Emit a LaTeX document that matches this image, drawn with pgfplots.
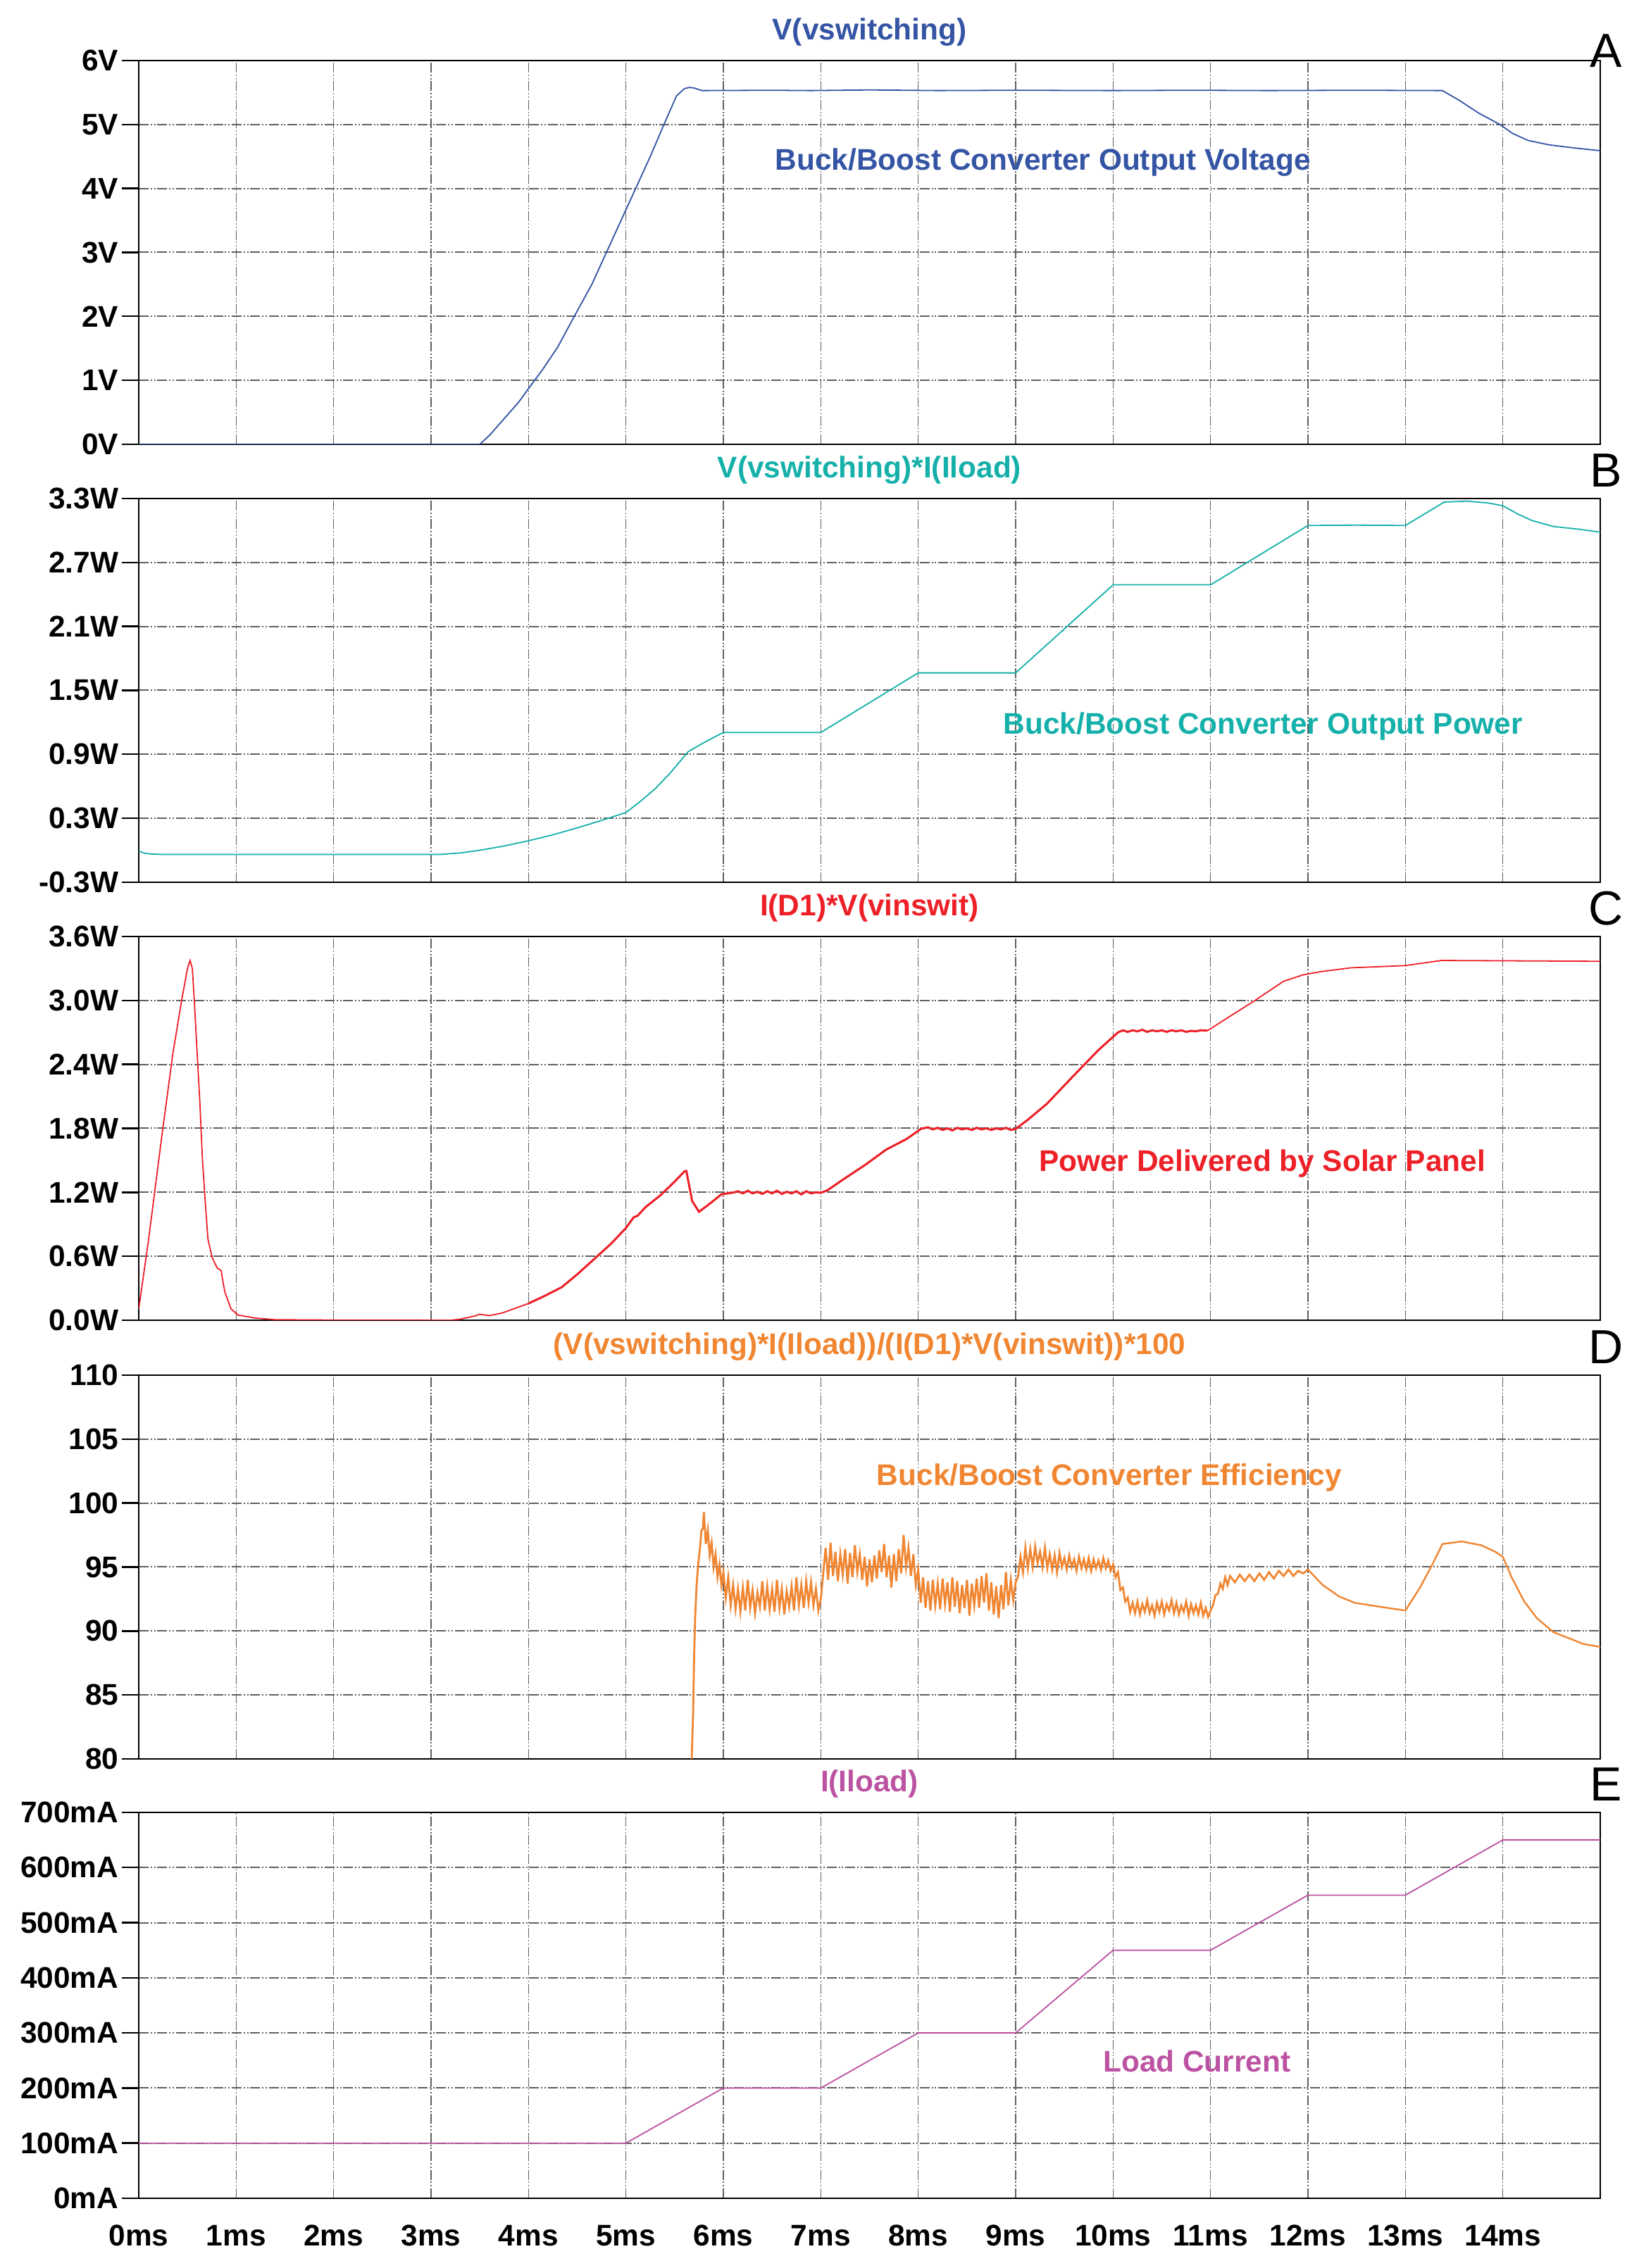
\documentclass[border=0pt]{standalone}
\usepackage{fontspec}
\setmainfont{Liberation Sans}
\usepackage{pgfplots}
\pgfplotsset{compat=1.18}
\definecolor{cA}{RGB}{52,84,164}
\definecolor{cB}{RGB}{22,176,170}
\definecolor{cC}{RGB}{237,32,40}
\definecolor{cD}{RGB}{240,134,50}
\definecolor{cE}{RGB}{188,82,162}
\definecolor{gridc}{RGB}{96,96,96}
\newcommand{\tf}{\fontsize{10.6}{12.5}\selectfont\bfseries}
\newcommand{\lf}{\fontsize{17}{20}\selectfont}
\pgfplotsset{panel/.style={
  scale only axis, width=518.75pt, height=136.25pt, anchor=north west,
  xmin=0, xmax=15, xtick={0,...,14}, xticklabels={},
  ytick pos=left, xtick pos=bottom, tick align=outside, major tick length=6pt,
  grid=major,
  x grid style={gridc, line width=0.35pt, dash pattern=on 3.5pt off 0.7pt on 0.5pt off 0.7pt on 0.5pt off 0.7pt},
  y grid style={gridc, line width=0.5pt, dash pattern=on 3.5pt off 0.7pt on 0.5pt off 0.7pt on 0.5pt off 0.7pt},
  axis line style={black, line width=0.6pt},
  ytick style={black, line width=0.6pt},
  xtick style={draw=none},
  ticklabel style={font=\tf},
  yticklabel style={inner xsep=1pt},
  clip mode=individual,
  every axis plot/.append style={line width=0.45pt},
}}
\newcommand{\ptitle}[2]{\node[font=\tf, text=#1, anchor=base, yshift=7.3pt] at (rel axis cs:0.5,1) {#2};}
\newcommand{\pletter}[2]{\node[font=\lf, anchor=base, xshift=2pt, yshift=#1] at (rel axis cs:1,1) {#2};}
\begin{document}
\begin{tikzpicture}
\path[use as bounding box] (0,0) rectangle (581.5pt,805.25pt);
% ---------------- A ----------------
\begin{axis}[panel, at={(49.25pt,783.75pt)}, ymin=0, ymax=6, ytick={0,1,2,3,4,5,6},
  yticklabels={0V,1V,2V,3V,4V,5V,6V}]
\addplot[cA] coordinates {(0,0) (3.5,0) (3.6,0.14) (3.75,0.40) (3.9,0.66) (4.0,0.87) (4.15,1.18) (4.3,1.52) (4.47,2.0) (4.65,2.5) (4.80,3.0) (4.95,3.5) (5.10,4.0) (5.25,4.5) (5.39,5.0) (5.52,5.45) (5.60,5.56) (5.65,5.58) (5.70,5.57) (5.78,5.53) (6.5,5.535) (6.9,5.53) (7.5,5.54) (8.2,5.53) (9.0,5.535) (10.0,5.53) (10.8,5.535) (11.6,5.53) (12.5,5.535) (13.38,5.53) (13.55,5.38) (13.75,5.18) (13.97,5.0) (14.1,4.86) (14.26,4.75) (14.48,4.68) (14.75,4.63) (15,4.59)};
\node[font=\tf, text=cA, anchor=base] at (axis cs:9.28,4.29) {Buck/Boost Converter Output Voltage};
\ptitle{cA}{V(vswitching)}
\pletter{-2.5pt}{A}
\end{axis}
% ---------------- B ----------------
\begin{axis}[panel, at={(49.25pt,628.25pt)}, ymin=-0.3, ymax=3.3, ytick={-0.3,0.3,0.9,1.5,2.1,2.7,3.3},
  yticklabels={-0.3W,0.3W,0.9W,1.5W,2.1W,2.7W,3.3W}]
\addplot[cB] coordinates {(0,-0.007) (0.05,-0.025) (0.12,-0.035) (0.26,-0.04) (3.08,-0.04) (3.3,-0.025) (3.5,0.0) (3.75,0.04) (4.0,0.089) (4.25,0.145) (4.5,0.21) (4.75,0.28) (5.0,0.354) (5.15,0.46) (5.3,0.577) (5.45,0.72) (5.64,0.926) (5.8,1.01) (6.0,1.105) (7.0,1.105) (8.0,1.664) (9.0,1.664) (10.0,2.49) (11.0,2.49) (12.0,3.047) (12.5,3.05) (13.0,3.047) (13.4,3.267) (13.63,3.275) (13.85,3.258) (14.0,3.232) (14.15,3.156) (14.3,3.093) (14.52,3.037) (14.78,3.012) (15,2.984)};
\node[font=\tf, text=cB, anchor=base] at (axis cs:11.54,1.09) {Buck/Boost Converter Output Power};
\ptitle{cB}{V(vswitching)*I(Iload)}
\pletter{4pt}{B}
\end{axis}
% ---------------- C ----------------
\begin{axis}[panel, at={(49.25pt,472.75pt)}, ymin=0, ymax=3.6, ytick={0,0.6,1.2,1.8,2.4,3.0,3.6},
  yticklabels={0.0W,0.6W,1.2W,1.8W,2.4W,3.0W,3.6W}]
\addplot[cC] coordinates {(0,0.106) (0.1,0.75) (0.24,1.75) (0.35,2.5) (0.44,3.0) (0.5,3.3) (0.527,3.375) (0.55,3.3) (0.57,3.0) (0.59,2.66) (0.628,2.03) (0.653,1.52) (0.68,1.14) (0.71,0.76) (0.754,0.587) (0.805,0.49) (0.846,0.465) (0.866,0.35) (0.886,0.258) (0.947,0.106) (1.02,0.048) (1.2,0.02) (1.4,0.005) (1.9,0.002) (3.2,0.0) (3.3,0.01) (3.45,0.04) (3.5,0.056) (3.6,0.043) (3.73,0.068) (4.0,0.157)};
\addplot[cC, line width=0.75pt] coordinates {(4.0,0.157) (4.17,0.23) (4.34,0.309) (4.5,0.43) (4.69,0.587) (4.85,0.72) (5.0,0.865) (5.08,0.966) (5.12,0.98) (5.2,1.06) (5.35,1.169) (5.5,1.30) (5.6,1.396) (5.62,1.40) (5.68,1.118) (5.75,1.017) (5.86,1.093) (5.98,1.181) (6.11,1.199)
 (6.15,1.21) (6.2,1.19) (6.25,1.215) (6.3,1.19) (6.35,1.205) (6.4,1.185) (6.45,1.21) (6.5,1.19) (6.55,1.215) (6.6,1.185) (6.65,1.205) (6.7,1.19) (6.75,1.21) (6.8,1.18) (6.85,1.21) (6.9,1.19) (6.95,1.2) (7.0,1.195)
 (7.07,1.22) (7.25,1.333) (7.46,1.46) (7.67,1.60) (7.88,1.70) (8.03,1.796)
 (8.1,1.81) (8.15,1.79) (8.2,1.805) (8.25,1.785) (8.3,1.8) (8.35,1.78) (8.4,1.805) (8.45,1.79) (8.5,1.8) (8.55,1.785) (8.6,1.805) (8.65,1.79) (8.7,1.8) (8.75,1.785) (8.8,1.8) (8.85,1.79) (8.9,1.805) (8.95,1.785) (9.0,1.795)
 (9.12,1.877) (9.32,2.03) (9.58,2.28) (9.85,2.535) (10.05,2.70)
 (10.1,2.72) (10.15,2.705) (10.2,2.72) (10.25,2.71) (10.3,2.725) (10.35,2.705) (10.4,2.72) (10.45,2.71) (10.5,2.72) (10.55,2.705) (10.6,2.72) (10.65,2.71) (10.7,2.72) (10.75,2.705) (10.8,2.715) (10.85,2.71) (10.9,2.72) (10.97,2.717)};
\addplot[cC] coordinates {(10.97,2.717) (11.18,2.84) (11.44,2.99) (11.75,3.18) (11.95,3.24) (12.13,3.27) (12.44,3.306) (13.0,3.327) (13.37,3.375) (15,3.367)};
\node[font=\tf, text=cC, anchor=base] at (axis cs:11.53,1.40) {Power Delivered by Solar Panel};
\ptitle{cC}{I(D1)*V(vinswit)}
\pletter{4pt}{C}
\end{axis}
% ---------------- D ----------------
\begin{axis}[panel, at={(49.25pt,317pt)}, ymin=80, ymax=110, ytick={80,85,90,95,100,105,110},
  yticklabels={80,85,90,95,100,105,110}]
\addplot[cD, line width=0.7pt] coordinates {(5.665,75) (5.675,80) (5.69,83.7) (5.70,88) (5.71,91) (5.725,93.5) (5.74,95.1) (5.76,96.5) (5.775,97.85) (5.79,98.0) (5.80,99.3)
 (5.82,96.8) (5.84,97.9) (5.86,95.9) (5.88,96.9) (5.90,95.0) (5.92,96.0) (5.94,94.2) (5.96,95.2) (5.98,93.6) (6.00,94.6)
 (6.025,92.6) (6.05,94.2) (6.075,92.0) (6.10,93.6) (6.125,91.7) (6.15,93.3) (6.175,91.5) (6.20,93.4) (6.225,91.6) (6.25,94.0) (6.275,91.8) (6.30,93.2) (6.325,91.4) (6.35,93.0) (6.375,91.9) (6.40,93.9) (6.425,91.6) (6.45,93.5) (6.475,91.7) (6.50,93.3) (6.525,91.5) (6.55,94.0) (6.575,91.8) (6.60,93.3) (6.625,91.3) (6.65,93.1) (6.675,91.9) (6.70,93.5) (6.725,91.6) (6.75,94.2) (6.775,92.0) (6.80,93.6) (6.825,91.8) (6.85,93.9) (6.875,92.2) (6.90,93.8) (6.925,92.0) (6.95,93.3) (6.975,91.6) (7.00,92.5)
 (7.025,94.5) (7.05,96.5) (7.075,94.0) (7.10,96.9) (7.125,94.3) (7.15,96.2) (7.175,93.9) (7.20,96.0) (7.225,94.4) (7.25,96.4) (7.275,93.7) (7.30,96.1) (7.325,94.2) (7.35,96.7) (7.375,94.6) (7.40,96.0) (7.425,94.0) (7.45,95.8) (7.475,93.5) (7.50,95.6) (7.525,93.8) (7.55,95.9) (7.575,94.1) (7.60,96.3) (7.625,94.6) (7.65,96.8) (7.675,94.2) (7.70,95.9) (7.725,93.4) (7.75,96.0) (7.775,93.9) (7.80,96.4) (7.825,94.5) (7.85,97.5) (7.875,95.0) (7.90,96.5) (7.925,94.3) (7.95,96.0) (7.975,93.6) (8.00,94.8)
 (8.025,92.2) (8.05,94.2) (8.075,91.8) (8.10,93.9) (8.125,91.6) (8.15,94.0) (8.175,92.0) (8.20,93.7) (8.225,91.7) (8.25,94.1) (8.275,92.1) (8.30,93.8) (8.325,91.5) (8.35,94.2) (8.375,91.9) (8.40,93.9) (8.425,91.4) (8.45,93.6) (8.475,91.8) (8.50,94.0) (8.525,91.2) (8.55,93.7) (8.575,92.0) (8.60,94.1) (8.625,91.8) (8.65,94.3) (8.675,92.2) (8.70,94.5) (8.725,91.6) (8.75,93.8) (8.775,91.3) (8.80,93.5) (8.825,91.0) (8.85,93.6) (8.875,91.7) (8.90,94.6) (8.925,92.0) (8.95,94.0) (8.975,92.4) (9.00,93.8)
 (9.025,94.3) (9.05,95.8) (9.075,94.6) (9.10,96.5) (9.125,94.9) (9.15,96.4) (9.175,95.0) (9.20,96.6) (9.225,95.3) (9.25,96.2) (9.275,95.0) (9.30,96.5) (9.325,94.9) (9.35,96.0) (9.375,94.8) (9.40,95.9) (9.425,94.6) (9.45,96.1) (9.475,95.0) (9.50,95.7) (9.525,94.8) (9.55,95.9) (9.575,95.0) (9.60,95.6) (9.625,94.7) (9.65,95.8) (9.675,94.9) (9.70,95.6) (9.725,94.8) (9.75,95.7) (9.775,94.7) (9.80,95.6) (9.825,94.9) (9.85,95.5) (9.875,94.8) (9.90,95.7) (9.925,94.9) (9.95,95.5) (9.975,94.7) (10.0,95.2)
 (10.025,94.2) (10.05,94.6) (10.075,93.2) (10.10,93.4) (10.125,92.3) (10.15,92.6) (10.175,91.5) (10.20,92.2)
 (10.225,91.4) (10.25,92.3) (10.275,91.3) (10.30,92.1) (10.325,91.5) (10.35,92.4) (10.375,91.4) (10.40,92.0) (10.425,91.2) (10.45,92.2) (10.475,91.5) (10.50,92.3) (10.525,91.3) (10.55,92.1) (10.575,91.6) (10.60,92.4) (10.625,91.4) (10.65,92.2) (10.675,91.3) (10.70,92.0) (10.725,91.5) (10.75,92.3) (10.775,91.2) (10.80,92.1) (10.825,91.4) (10.85,92.0) (10.875,91.3) (10.90,92.2) (10.925,91.2) (10.95,91.8) (10.975,91.1) (11.00,91.6)
 (11.025,92.0) (11.05,92.8) (11.075,92.9) (11.10,93.7) (11.125,93.3) (11.15,94.2) (11.175,93.6) (11.20,94.3) (11.25,93.8) (11.30,94.4) (11.35,93.9) (11.40,94.4) (11.45,93.9) (11.50,94.5) (11.55,94.0) (11.60,94.6) (11.65,94.1) (11.70,94.7) (11.75,94.3) (11.80,94.8) (11.85,94.3) (11.90,94.7) (11.95,94.5) (12.00,94.8)};
\addplot[cD, line width=0.6pt] coordinates {(12.00,94.8) (12.15,93.6) (12.32,92.7) (12.48,92.2) (12.65,92.0) (12.82,91.8) (13.0,91.6) (13.15,93.4) (13.27,95.1) (13.38,96.8) (13.58,97.0) (13.78,96.7) (13.92,96.2) (14.0,95.8) (14.09,94.2) (14.22,92.3) (14.35,91.0) (14.52,89.9) (14.69,89.4) (14.82,89.0) (15,88.75)};
\node[font=\tf, text=cD, anchor=base] at (axis cs:9.96,101.4) {Buck/Boost Converter Efficiency};
\ptitle{cD}{(V(vswitching)*I(Iload))/(I(D1)*V(vinswit))*100}
\pletter{4pt}{D}
\end{axis}
% ---------------- E ----------------
\begin{axis}[panel, at={(49.25pt,161.75pt)}, height=137pt, ymin=0, ymax=700, ytick={0,100,200,300,400,500,600,700},
  yticklabels={0mA,100mA,200mA,300mA,400mA,500mA,600mA,700mA},
  xticklabels={0ms,1ms,2ms,3ms,4ms,5ms,6ms,7ms,8ms,9ms,10ms,11ms,12ms,13ms,14ms},
  xtick style={black, line width=0.6pt}]
\addplot[cE] coordinates {(0,100) (5,100) (6,200) (7,200) (8,300) (9,300) (10,450) (11,450) (12,550) (13,550) (14,650) (15,650)};
\node[font=\tf, text=cE, anchor=base] at (axis cs:10.86,229) {Load Current};
\ptitle{cE}{I(Iload)}
\pletter{4pt}{E}
\end{axis}
\end{tikzpicture}
\end{document}
